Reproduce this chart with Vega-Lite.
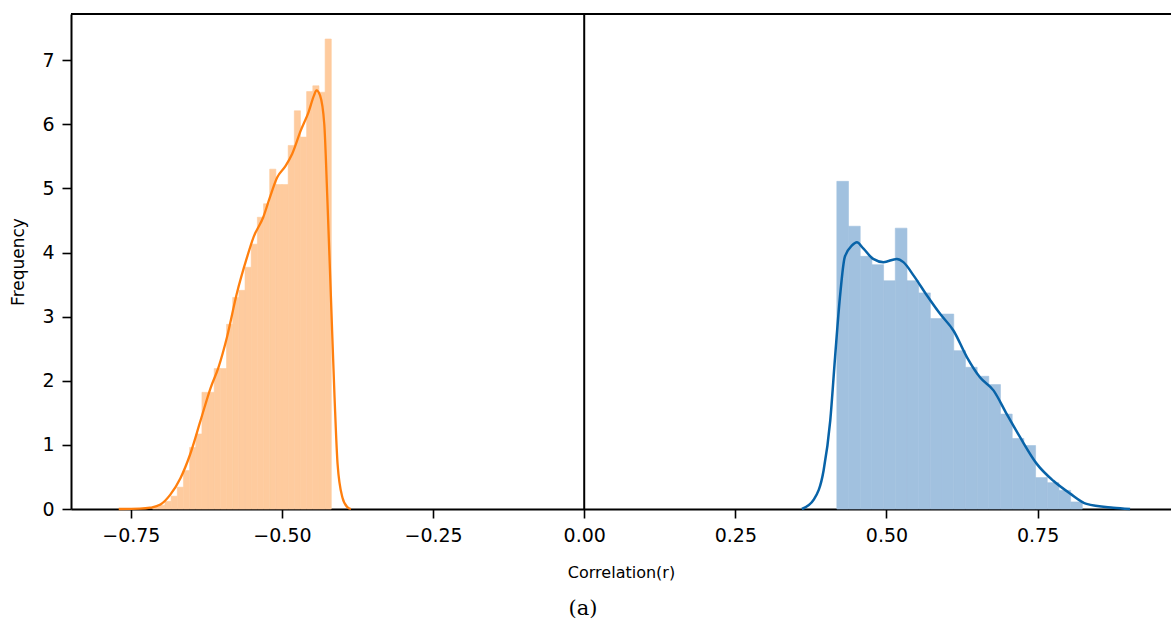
{
  "$schema": "https://vega.github.io/schema/vega-lite/v6.json",
  "autosize": {"type": "none"},
  "padding": {"left": 71, "top": 14, "right": 0, "bottom": 112},
  "width": 1100,
  "height": 495,
  "background": "white",
  "view": {"stroke": null},
  "config": {
    "font": "DejaVu Sans",
    "axis": {
      "domainColor": "black", "domainWidth": 2, "tickColor": "black", "tickWidth": 1.6, "tickSize": 9,
      "labelColor": "black", "labelFont": "DejaVu Sans", "labelFontSize": 19, "labelPadding": 8,
      "titleColor": "black", "titleFont": "DejaVu Sans", "titleFontSize": 16, "titleFontWeight": "normal",
      "grid": false
    }
  },
  "title": {"text": "(a)", "orient": "bottom", "anchor": "middle", "font": "DejaVu Serif", "fontSize": 21, "fontWeight": "normal", "color": "black", "offset": 18, "dx": -38},
  "datasets": {
    "orangeBars": [
      {"bin_start": -0.4286, "bin_end": -0.4184, "freq": 7.33},
      {"bin_start": -0.4388, "bin_end": -0.4286, "freq": 6.50},
      {"bin_start": -0.4490, "bin_end": -0.4388, "freq": 6.60},
      {"bin_start": -0.4592, "bin_end": -0.4490, "freq": 6.51},
      {"bin_start": -0.4694, "bin_end": -0.4592, "freq": 5.80},
      {"bin_start": -0.4796, "bin_end": -0.4694, "freq": 6.21},
      {"bin_start": -0.4897, "bin_end": -0.4796, "freq": 5.67},
      {"bin_start": -0.4999, "bin_end": -0.4897, "freq": 5.06},
      {"bin_start": -0.5101, "bin_end": -0.4999, "freq": 5.06},
      {"bin_start": -0.5203, "bin_end": -0.5101, "freq": 5.30},
      {"bin_start": -0.5305, "bin_end": -0.5203, "freq": 4.76},
      {"bin_start": -0.5407, "bin_end": -0.5305, "freq": 4.55},
      {"bin_start": -0.5509, "bin_end": -0.5407, "freq": 4.13},
      {"bin_start": -0.5611, "bin_end": -0.5509, "freq": 3.77},
      {"bin_start": -0.5713, "bin_end": -0.5611, "freq": 3.41},
      {"bin_start": -0.5815, "bin_end": -0.5713, "freq": 3.30},
      {"bin_start": -0.5917, "bin_end": -0.5815, "freq": 2.88},
      {"bin_start": -0.6019, "bin_end": -0.5917, "freq": 2.19},
      {"bin_start": -0.6121, "bin_end": -0.6019, "freq": 2.19},
      {"bin_start": -0.6223, "bin_end": -0.6121, "freq": 1.82},
      {"bin_start": -0.6324, "bin_end": -0.6223, "freq": 1.82},
      {"bin_start": -0.6426, "bin_end": -0.6324, "freq": 1.17},
      {"bin_start": -0.6528, "bin_end": -0.6426, "freq": 0.96},
      {"bin_start": -0.6630, "bin_end": -0.6528, "freq": 0.60},
      {"bin_start": -0.6732, "bin_end": -0.6630, "freq": 0.34},
      {"bin_start": -0.6834, "bin_end": -0.6732, "freq": 0.20},
      {"bin_start": -0.6936, "bin_end": -0.6834, "freq": 0.12},
      {"bin_start": -0.7038, "bin_end": -0.6936, "freq": 0.06},
      {"bin_start": -0.7140, "bin_end": -0.7038, "freq": 0.03}
    ],
    "blueBars": [
      {"bin_start": 0.4179, "bin_end": 0.4372, "freq": 5.11},
      {"bin_start": 0.4372, "bin_end": 0.4566, "freq": 4.41},
      {"bin_start": 0.4566, "bin_end": 0.4759, "freq": 3.94},
      {"bin_start": 0.4759, "bin_end": 0.4952, "freq": 3.81},
      {"bin_start": 0.4952, "bin_end": 0.5146, "freq": 3.56},
      {"bin_start": 0.5146, "bin_end": 0.5339, "freq": 4.38},
      {"bin_start": 0.5339, "bin_end": 0.5533, "freq": 3.56},
      {"bin_start": 0.5533, "bin_end": 0.5726, "freq": 3.37},
      {"bin_start": 0.5726, "bin_end": 0.5919, "freq": 2.97},
      {"bin_start": 0.5919, "bin_end": 0.6113, "freq": 3.04},
      {"bin_start": 0.6113, "bin_end": 0.6306, "freq": 2.47},
      {"bin_start": 0.6306, "bin_end": 0.6500, "freq": 2.21},
      {"bin_start": 0.6500, "bin_end": 0.6693, "freq": 2.07},
      {"bin_start": 0.6693, "bin_end": 0.6886, "freq": 1.94},
      {"bin_start": 0.6886, "bin_end": 0.7080, "freq": 1.48},
      {"bin_start": 0.7080, "bin_end": 0.7273, "freq": 1.10},
      {"bin_start": 0.7273, "bin_end": 0.7467, "freq": 0.99},
      {"bin_start": 0.7467, "bin_end": 0.7660, "freq": 0.49},
      {"bin_start": 0.7660, "bin_end": 0.7853, "freq": 0.41},
      {"bin_start": 0.7853, "bin_end": 0.8047, "freq": 0.29},
      {"bin_start": 0.8047, "bin_end": 0.8240, "freq": 0.11}
    ],
    "orangeKde": [
      {"r": -0.770, "density": 0.0},
      {"r": -0.735, "density": 0.005},
      {"r": -0.718, "density": 0.02},
      {"r": -0.701, "density": 0.07},
      {"r": -0.685, "density": 0.22},
      {"r": -0.668, "density": 0.48},
      {"r": -0.652, "density": 0.85},
      {"r": -0.635, "density": 1.37},
      {"r": -0.618, "density": 1.89},
      {"r": -0.605, "density": 2.21},
      {"r": -0.591, "density": 2.68},
      {"r": -0.575, "density": 3.35},
      {"r": -0.558, "density": 3.92},
      {"r": -0.547, "density": 4.24},
      {"r": -0.531, "density": 4.55},
      {"r": -0.520, "density": 4.86},
      {"r": -0.508, "density": 5.17},
      {"r": -0.494, "density": 5.35},
      {"r": -0.483, "density": 5.54},
      {"r": -0.469, "density": 5.90},
      {"r": -0.456, "density": 6.19},
      {"r": -0.447, "density": 6.45},
      {"r": -0.443, "density": 6.53},
      {"r": -0.437, "density": 6.45},
      {"r": -0.430, "density": 6.00},
      {"r": -0.425, "density": 4.86},
      {"r": -0.419, "density": 3.30},
      {"r": -0.413, "density": 1.74},
      {"r": -0.408, "density": 0.70},
      {"r": -0.400, "density": 0.18},
      {"r": -0.392, "density": 0.03},
      {"r": -0.386, "density": 0.0}
    ],
    "blueKde": [
      {"r": 0.360, "density": 0.0},
      {"r": 0.380, "density": 0.15},
      {"r": 0.396, "density": 0.60},
      {"r": 0.407, "density": 1.38},
      {"r": 0.415, "density": 2.37},
      {"r": 0.423, "density": 3.30},
      {"r": 0.431, "density": 3.93},
      {"r": 0.443, "density": 4.11},
      {"r": 0.451, "density": 4.16},
      {"r": 0.462, "density": 4.06},
      {"r": 0.478, "density": 3.90},
      {"r": 0.495, "density": 3.85},
      {"r": 0.517, "density": 3.90},
      {"r": 0.528, "density": 3.85},
      {"r": 0.545, "density": 3.64},
      {"r": 0.567, "density": 3.33},
      {"r": 0.589, "density": 3.04},
      {"r": 0.611, "density": 2.78},
      {"r": 0.633, "density": 2.37},
      {"r": 0.655, "density": 2.05},
      {"r": 0.677, "density": 1.85},
      {"r": 0.699, "density": 1.48},
      {"r": 0.721, "density": 1.12},
      {"r": 0.749, "density": 0.70},
      {"r": 0.776, "density": 0.44},
      {"r": 0.804, "density": 0.24},
      {"r": 0.831, "density": 0.08},
      {"r": 0.875, "density": 0.02},
      {"r": 0.903, "density": 0.0}
    ]
  },
  "layer": [
    {
      "data": {"name": "orangeBars"},
      "mark": {"type": "rect", "fill": "#fecb9e", "stroke": "#fecb9e", "strokeWidth": 0.6},
      "encoding": {
        "x": {"field": "bin_start", "type": "quantitative", "scale": {"domain": [-0.849, 0.9707], "nice": false, "zero": false},
              "axis": {"values": [-0.75, -0.5, -0.25, 0, 0.25, 0.5, 0.75], "format": ".2f", "title": "Correlation(r)", "titlePadding": 19}},
        "x2": {"field": "bin_end"},
        "y": {"field": "freq", "type": "quantitative", "scale": {"domain": [0, 7.72], "nice": false},
              "axis": {"values": [0, 1, 2, 3, 4, 5, 6, 7], "format": "d", "title": "Frequency", "titlePadding": 14, "titleFontSize": 17}},
        "y2": {"datum": 0}
      }
    },
    {
      "data": {"name": "blueBars"},
      "mark": {"type": "rect", "fill": "#a1c1df", "stroke": "#a1c1df", "strokeWidth": 0.6},
      "encoding": {
        "x": {"field": "bin_start", "type": "quantitative"},
        "x2": {"field": "bin_end"},
        "y": {"field": "freq", "type": "quantitative"},
        "y2": {"datum": 0}
      }
    },
    {
      "data": {"name": "orangeKde"},
      "mark": {"type": "line", "color": "#ff7f0e", "strokeWidth": 2.3, "interpolate": "monotone"},
      "encoding": {
        "x": {"field": "r", "type": "quantitative"},
        "y": {"field": "density", "type": "quantitative"}
      }
    },
    {
      "data": {"name": "blueKde"},
      "mark": {"type": "line", "color": "#0863a8", "strokeWidth": 2.5, "interpolate": "monotone"},
      "encoding": {
        "x": {"field": "r", "type": "quantitative"},
        "y": {"field": "density", "type": "quantitative"}
      }
    },
    {
      "data": {"values": [{}]},
      "mark": {"type": "rule", "color": "black", "strokeWidth": 2},
      "encoding": {
        "x": {"datum": 0, "type": "quantitative"}
      }
    },
    {
      "data": {"values": [{}]},
      "mark": {"type": "rule", "color": "black", "strokeWidth": 2},
      "encoding": {
        "y": {"datum": 7.72, "type": "quantitative"}
      }
    }
  ]
}
